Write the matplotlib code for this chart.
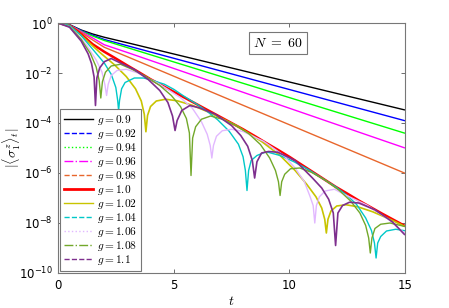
'''
Decay of |<sigma_1^z>_t| for a chain of N = 60 spins, several couplings g
'''

import numpy as np
import matplotlib
matplotlib.use("Agg")
import matplotlib.pyplot as plt
from matplotlib.lines import Line2D
from matplotlib.ticker import FixedLocator, FuncFormatter, NullLocator

plt.rcParams['mathtext.fontset'] = 'cm'
plt.rcParams['font.family'] = ['DejaVu Sans']

# values, stored as log10 of |<sigma_1^z>_t|
t_09 = [0, 0.5, 1, 1.5, 2, 3, 15]
lg_09 = [0, -0.07, -0.28, -0.44, -0.57, -0.79, -3.48]
t_092 = [0, 0.5, 1, 1.5, 2, 3, 15]
lg_092 = [0, -0.07, -0.3, -0.49, -0.66, -0.91, -3.91]
t_094 = [0, 0.5, 1, 1.5, 2, 3, 15]
lg_094 = [0, -0.08, -0.32, -0.52, -0.7, -0.985, -4.41]
t_096 = [0, 0.5, 1, 1.5, 2, 3, 15]
lg_096 = [0, -0.08, -0.34, -0.6, -0.87, -1.18, -5.0]
t_098 = [0, 0.5, 1, 1.5, 2, 3, 15]
lg_098 = [0, -0.09, -0.38, -0.68, -0.97, -1.35, -6.01]

t_10 = [0, 0.5, 1, 1.5, 2, 2.5, 3, 3.5, 4, 4.5, 5, 5.5, 6, 6.5, 7, 7.5, 8,
        8.5, 9, 9.5, 10, 10.5, 11, 11.5, 12, 12.5, 13, 13.5, 14, 14.5, 15]
lg_10 = [0, -0.1, -0.45, -0.85, -1.15, -1.42, -1.7, -1.97, -2.25, -2.5,
         -2.75, -3.0, -3.25, -3.5, -3.75, -4.0, -4.25, -4.52, -4.8, -5.07,
         -5.35, -5.65, -5.95, -6.25, -6.55, -6.82, -7.1, -7.36, -7.62,
         -7.87, -8.12]

t_102 = [0, 0.5, 1, 1.8, 2.45, 2.95, 3.35, 3.6, 3.73, 3.8, 3.87, 4.0, 4.25,
         4.65, 5.15, 5.8, 6.6, 7.7, 8.8, 9.6, 10.25, 10.75, 11.15, 11.4,
         11.53, 11.6, 11.67, 11.8, 12.05, 12.45, 12.95, 13.6, 14.4, 15]
lg_102 = [0, -0.11, -0.5, -1.17, -1.68, -2.14, -2.63, -3.12, -3.65, -4.35,
          -3.7, -3.34, -3.12, -3.05, -3.11, -3.29, -3.6, -4.1, -4.74, -5.3,
          -5.9, -6.45, -6.95, -7.4, -7.85, -8.4, -7.85, -7.52, -7.32, -7.27,
          -7.35, -7.55, -7.87, -8.14]

t_104 = [0, 0.5, 1, 1.5, 2, 2.3, 2.5, 2.58, 2.62, 2.66, 2.75, 2.9, 3.3, 3.7,
         4.1, 4.6, 5.0, 5.4, 6.0, 6.4, 6.9, 7.4, 7.8, 8.0, 8.1, 8.17, 8.24,
         8.35, 8.6, 9.0, 9.6, 10.2, 10.8, 11.4, 12.0, 12.5, 12.9, 13.3,
         13.55, 13.68, 13.75, 13.82, 13.95, 14.2, 14.6, 15]
lg_104 = [0, -0.1, -0.5, -1.05, -1.6, -2.05, -2.58, -3.1, -3.5, -3.1, -2.63,
          -2.38, -2.2, -2.2, -2.3, -2.45, -2.65, -2.9, -3.25, -3.5, -3.87,
          -4.33, -4.85, -5.35, -5.9, -6.7, -5.9, -5.5, -5.3, -5.15, -5.3,
          -5.55, -5.85, -6.2, -6.55, -6.9, -7.25, -7.8, -8.3, -8.8, -9.4,
          -8.8, -8.54, -8.32, -8.25, -8.31]

t_106 = [0, 0.5, 1, 1.25, 1.65, 1.9, 2.03, 2.1, 2.17, 2.3, 2.55, 2.95, 3.45,
         4.38, 5.3, 5.8, 6.2, 6.45, 6.58, 6.65, 6.72, 6.85, 7.1, 7.5, 8.0,
         8.88, 9.75, 10.25, 10.65, 10.9, 11.03, 11.1, 11.17, 11.3, 11.55,
         11.95, 12.45, 13.35, 14.25, 15]
lg_106 = [0, -0.15, -0.61, -0.9, -1.48, -1.96, -2.48, -2.9, -2.45, -2.1,
          -1.9, -1.85, -2.0, -2.44, -2.99, -3.4, -3.95, -4.45, -4.9, -5.4,
          -4.9, -4.53, -4.31, -4.25, -4.34, -4.73, -5.29, -5.8, -6.35,
          -6.95, -7.3, -8.0, -7.3, -6.95, -6.72, -6.65, -6.89, -7.28, -7.83,
          -8.42]

t_108 = [0, 0.5, 1, 1.4, 1.65, 1.78, 1.85, 1.92, 2.05, 2.3, 2.7, 3.2, 3.8,
         4.4, 4.9, 5.3, 5.55, 5.68, 5.75, 5.82, 5.95, 6.2, 6.6, 7.1, 7.68,
         8.25, 8.75, 9.15, 9.4, 9.53, 9.6, 9.67, 9.8, 10.05, 10.45, 10.95,
         11.55, 12.15, 12.65, 13.05, 13.3, 13.43, 13.5, 13.57, 13.7, 13.95,
         14.35, 15]
lg_108 = [0, -0.15, -0.65, -1.22, -1.76, -2.3, -3.0, -2.35, -1.97, -1.72,
          -1.65, -1.85, -2.14, -2.5, -2.9, -3.35, -3.82, -4.4, -6.1, -4.6,
          -4.15, -3.85, -3.72, -3.85, -4.09, -4.43, -4.86, -5.4, -5.9, -6.35,
          -6.9, -6.35, -6.05, -5.83, -5.8, -5.97, -6.28, -6.69, -7.12, -7.6,
          -8.1, -8.6, -9.2, -8.6, -8.22, -8.05, -8.0, -8.14]

t_11 = [0, 0.5, 1, 1.3, 1.45, 1.56, 1.62, 1.68, 1.8, 2.0, 2.3, 2.7, 3.3, 3.9,
        4.4, 4.75, 4.95, 5.06, 5.15, 5.35, 5.7, 6.1, 6.8, 7.5, 7.9, 8.2, 8.4,
        8.5, 8.6, 8.8, 9.1, 9.5, 10.25, 11.0, 11.4, 11.7, 11.9, 12.0, 12.1,
        12.3, 12.6, 13.0, 13.7, 14.45, 15]
lg_11 = [0, -0.17, -0.72, -1.23, -1.62, -2.16, -3.3, -2.2, -1.8, -1.55,
         -1.42, -1.6, -1.86, -2.26, -2.7, -3.18, -3.72, -4.3, -3.9, -3.5,
         -3.3, -3.39, -3.65, -4.1, -4.5, -4.93, -5.5, -6.2, -5.55, -5.2,
         -5.14, -5.17, -5.5, -6.2, -6.6, -7.05, -7.6, -8.9, -7.6, -7.3,
         -7.17, -7.2, -7.47, -7.95, -8.48]

g_labels = ['0.9', '0.92', '0.94', '0.96', '0.98', '1.0',
            '1.02', '1.04', '1.06', '1.08', '1.1']
t_all = [t_09, t_092, t_094, t_096, t_098, t_10,
         t_102, t_104, t_106, t_108, t_11]
lg_all = [lg_09, lg_092, lg_094, lg_096, lg_098, lg_10,
          lg_102, lg_104, lg_106, lg_108, lg_11]

colors = ['black', '#0000ff', '#00ff00', '#ff00ff', '#e8662c', '#ff0000',
          '#c8c400', '#00c8c8', '#e2b8ff', '#72a82a', '#7e2f8e']
styles = ['-', '--', ':', '-.', '--', '-', '-', '--', ':', '-.', '--']
widths = [1.0, 1.0, 1.0, 1.0, 1.0, 1.8, 1.2, 1.0, 1.0, 1.0, 1.2]

fig = plt.figure(figsize=(4.49, 3.08), dpi=100)
ax = fig.add_axes([58 / 449, 35 / 308, 347 / 449, 250 / 308])

for tt, lg, c, w in zip(t_all, lg_all, colors, widths):
    ax.plot(tt, 10.0 ** np.array(lg), color=c, lw=w, solid_capstyle='butt')

ax.set_yscale('log')
ax.set_xlim(0, 15)
ax.set_ylim(1e-10, 1)

# axes look: ticks inside, on every side
ax.yaxis.set_major_locator(FixedLocator([1e-10, 1e-8, 1e-6, 1e-4, 1e-2, 1]))
ax.yaxis.set_minor_locator(NullLocator())
ax.yaxis.set_major_formatter(FuncFormatter(
    lambda v, _: r'$\mathregular{10^{%d}}$' % round(np.log10(v))))
ax.set_xticks([0, 5, 10, 15])
ax.tick_params(direction='in', top=True, right=True, length=3,
               width=0.6, color='#555555', labelsize=8.5, pad=4)
for sp in ax.spines.values():
    sp.set_color('#777777')
    sp.set_linewidth(0.8)

ax.set_xlabel(r'$t$', fontsize=10, labelpad=2)
ax.set_ylabel(r'$|\langle\sigma_1^z\rangle_t|$', fontsize=10)
ax.yaxis.set_label_coords(-0.1, 0.5)

ax.text(0.634, 0.92, r'$N\ =\ 60$', transform=ax.transAxes, fontsize=10,
        ha='center', va='center',
        bbox=dict(boxstyle='square,pad=0.3', fc='white', ec='#777777', lw=0.8))

handles = [Line2D([], [], color=c, ls=s, lw=(2.0 if w > 1.5 else 1.0))
           for c, s, w in zip(colors, styles, widths)]
labels = [r'$g = %s$' % g for g in g_labels]
leg = ax.legend(handles, labels, loc='lower left', bbox_to_anchor=(0.005, 0.01),
                borderaxespad=0, fontsize=8.2, labelspacing=0.0,
                handlelength=2.6, handletextpad=0.35, borderpad=0.35,
                fancybox=False, framealpha=1, edgecolor='#777777')
leg.get_frame().set_linewidth(0.8)

fig.savefig('out.png', dpi=100)
